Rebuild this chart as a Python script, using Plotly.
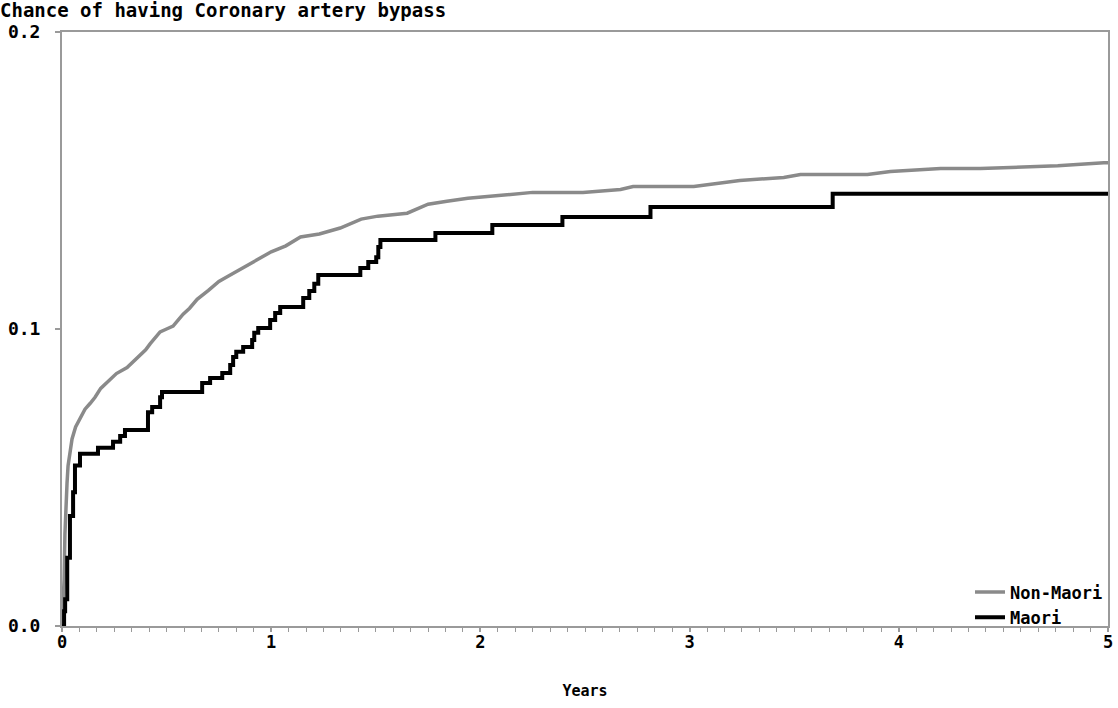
import plotly.graph_objects as go

# Non-Maori cumulative chance (years, probability)
nonmaori_years = [0.0, 0.005, 0.01, 0.014, 0.019, 0.024, 0.029, 0.038, 0.048, 0.065, 0.086, 0.11, 0.135, 0.158,
                  0.185, 0.215, 0.26, 0.311, 0.34, 0.373, 0.40, 0.421, 0.445, 0.469, 0.50, 0.531, 0.555,
                  0.579, 0.61, 0.646, 0.70, 0.75, 0.80, 0.85, 0.92, 1.0, 1.07, 1.14, 1.23, 1.33, 1.43,
                  1.51, 1.65, 1.75, 1.84, 1.94, 2.10, 2.25, 2.49, 2.67, 2.73, 3.02, 3.24, 3.45, 3.53,
                  3.85, 3.96, 4.20, 4.39, 4.76, 4.98, 5.0]
nonmaori_prob = [0.0, 0.006, 0.0155, 0.031, 0.042, 0.048, 0.054, 0.059, 0.063, 0.067, 0.070, 0.073, 0.075, 0.077,
                 0.080, 0.082, 0.085, 0.087, 0.089, 0.091, 0.093, 0.095, 0.097, 0.099, 0.100, 0.101, 0.103,
                 0.105, 0.107, 0.110, 0.113, 0.116, 0.118, 0.120, 0.123, 0.126, 0.128, 0.131, 0.132, 0.134, 0.137,
                 0.138, 0.139, 0.142, 0.143, 0.144, 0.145, 0.146, 0.146, 0.147, 0.148, 0.148, 0.150, 0.151, 0.152,
                 0.152, 0.153, 0.154, 0.154, 0.155, 0.156, 0.156]

# Maori cumulative chance (years, probability)
maori_years = [0.0, 0.01, 0.015, 0.025, 0.038, 0.053, 0.062, 0.086, 0.172, 0.244, 0.278, 0.301, 0.411,
               0.431, 0.469, 0.478, 0.670, 0.708, 0.766, 0.804, 0.818, 0.833, 0.866, 0.909, 0.919, 0.938,
               0.995, 1.019, 1.043, 1.153, 1.182, 1.206, 1.225, 1.426, 1.464, 1.502, 1.512, 1.522, 1.785,
               2.057, 2.392, 2.813, 3.684, 5.0]
maori_prob = [0.0, 0.005, 0.009, 0.023, 0.037, 0.045, 0.054, 0.058, 0.060, 0.062, 0.064, 0.066, 0.072,
              0.0737, 0.077, 0.0788, 0.0818, 0.0835, 0.0852, 0.0879, 0.0906, 0.0923, 0.0939, 0.0963, 0.0987,
              0.1003, 0.1030, 0.1054, 0.1074, 0.1104, 0.1128, 0.1152, 0.1182, 0.1205, 0.1226, 0.1242, 0.1276,
              0.1300, 0.1323, 0.1350, 0.1377, 0.1411, 0.1455, 0.1455]

x_ticks = [0, 1, 2, 3, 4, 5]
y_ticks = [0.0, 0.1, 0.2]
y_tick_text = ["0.0", "0.1", "0.2"]

FONT = "DejaVu Sans Mono"
AXIS_GRAY = "#9a9a9a"

fig = go.Figure()
fig.add_trace(go.Scatter(x=nonmaori_years, y=nonmaori_prob, mode="lines", name="Non-Maori",
                         line=dict(color="#8a8a8a", width=3.5, shape="linear")))
fig.add_trace(go.Scatter(x=maori_years, y=maori_prob, mode="lines", name="Maori",
                         line=dict(color="#000000", width=4, shape="hv")))

fig.update_layout(
    width=1118, height=708,
    margin=dict(l=62, r=10, t=32, b=82),
    paper_bgcolor="white", plot_bgcolor="white",
    font=dict(family=FONT, color="black", size=16, weight="bold"),
    title=dict(text="Chance of having Coronary artery bypass", x=0.0, xref="container", xanchor="left",
               y=1 - 10 / 708, yref="container", yanchor="middle",
               font=dict(family=FONT, size=19, weight="bold", color="black"), pad=dict(l=0)),
    showlegend=True,
    legend=dict(x=1.0, xanchor="right", y=-0.016, yanchor="bottom", bgcolor="rgba(0,0,0,0)",
                font=dict(family=FONT, size=17, weight="bold", color="black"),
                itemwidth=30, tracegroupgap=0),
)
fig.update_xaxes(range=[0, 5], tickvals=x_ticks, ticks="outside", ticklen=4, tickcolor=AXIS_GRAY,
                 tickwidth=1.5, showline=True, linecolor=AXIS_GRAY, linewidth=2, mirror=True,
                 showgrid=False, zeroline=False, automargin=False, ticklabelstandoff=-4,
                 tickfont=dict(family=FONT, size=17, weight="bold"),
                 minor=dict(dtick=1 / 12, ticks="outside", ticklen=4, tickcolor=AXIS_GRAY, tickwidth=1, showgrid=False),
                 title=dict(text="Years", font=dict(family=FONT, size=15, weight="bold"), standoff=34))
fig.update_yaxes(range=[0, 0.2], tickvals=y_ticks, ticktext=y_tick_text, ticks="outside", ticklen=5,
                 tickcolor=AXIS_GRAY, tickwidth=1.5, showline=True, linecolor=AXIS_GRAY, linewidth=2,
                 mirror=True, showgrid=False, zeroline=False, automargin=False, ticklabelstandoff=11,
                 tickfont=dict(family=FONT, size=18, weight="bold"))

fig.write_html("out.html")
